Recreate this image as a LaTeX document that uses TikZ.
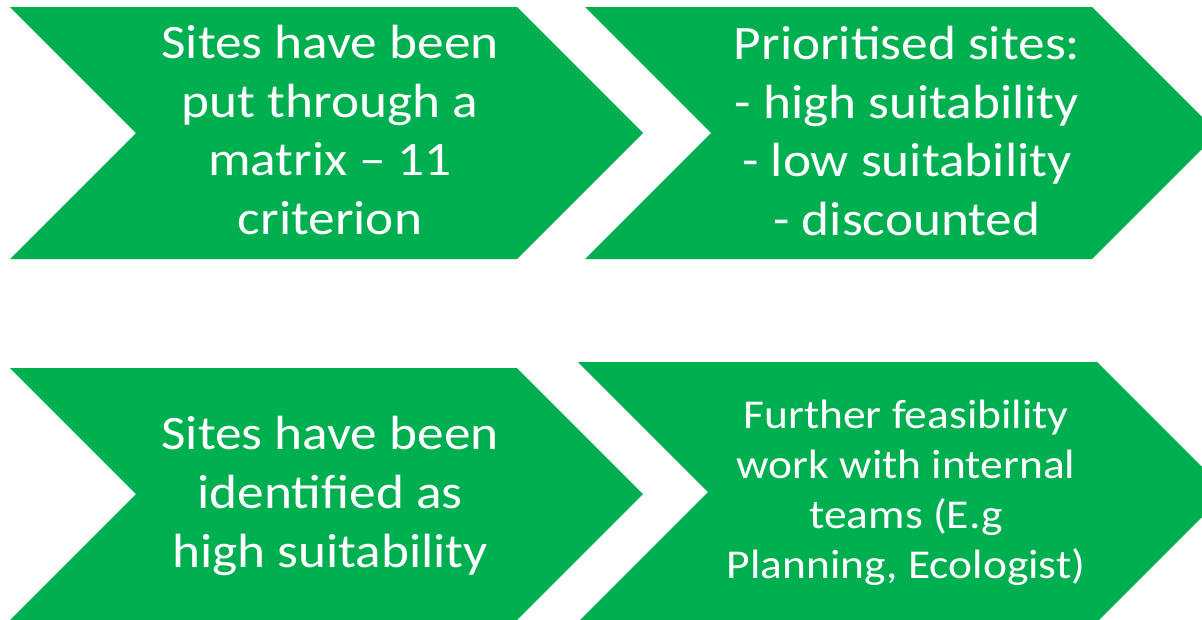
\documentclass[tikz,border=0pt]{standalone}
\usepackage{fontspec}
\setmainfont[FakeStretch=1.11]{Carlito}
\definecolor{stepgreen}{HTML}{00B050}

\begin{document}
\begin{tikzpicture}[
  x=1pt,y=-1pt,
  arrowbox/.style={fill=stepgreen},
  steptext/.style={text=white,align=center,inner sep=0pt,font=\fontsize{48}{58.7}\selectfont},
  smalltext/.style={steptext,font=\fontsize{41}{50}\selectfont}
]
  \useasboundingbox (0,0) rectangle (1202,619);
  \clip (0,0) rectangle (1202,619);
  % top row
  \fill[arrowbox] (10,7) -- (517,7) -- (643,133) -- (517,259) -- (10,259) -- (136,133) -- cycle;
  \fill[arrowbox] (585,7) -- (1092,7) -- (1218,133) -- (1092,259) -- (585,259) -- (711,133) -- cycle;
  % bottom row
  \fill[arrowbox] (10,368) -- (517,368) -- (643,494) -- (517,620) -- (10,620) -- (136,494) -- cycle;
  \fill[arrowbox] (578,362) -- (1097,362) -- (1227,492) -- (1097,622) -- (578,622) -- (708,492) -- cycle;
  \node[steptext] (matrix) at (330,130) {Sites have been\\put through a\\matrix -- 11\\criterion};
  \node[steptext] (prio) at (907,131) {Prioritised sites:\\- high suitability\\- low suitability\\- discounted};
  \node[steptext] (ident) at (330,496) {Sites have been\\identified as\\high suitability};
  \node[smalltext] (feas) at (906,493) {Further feasibility\\work with internal\\teams (E.g\\Planning, Ecologist)};
\end{tikzpicture}
\end{document}
